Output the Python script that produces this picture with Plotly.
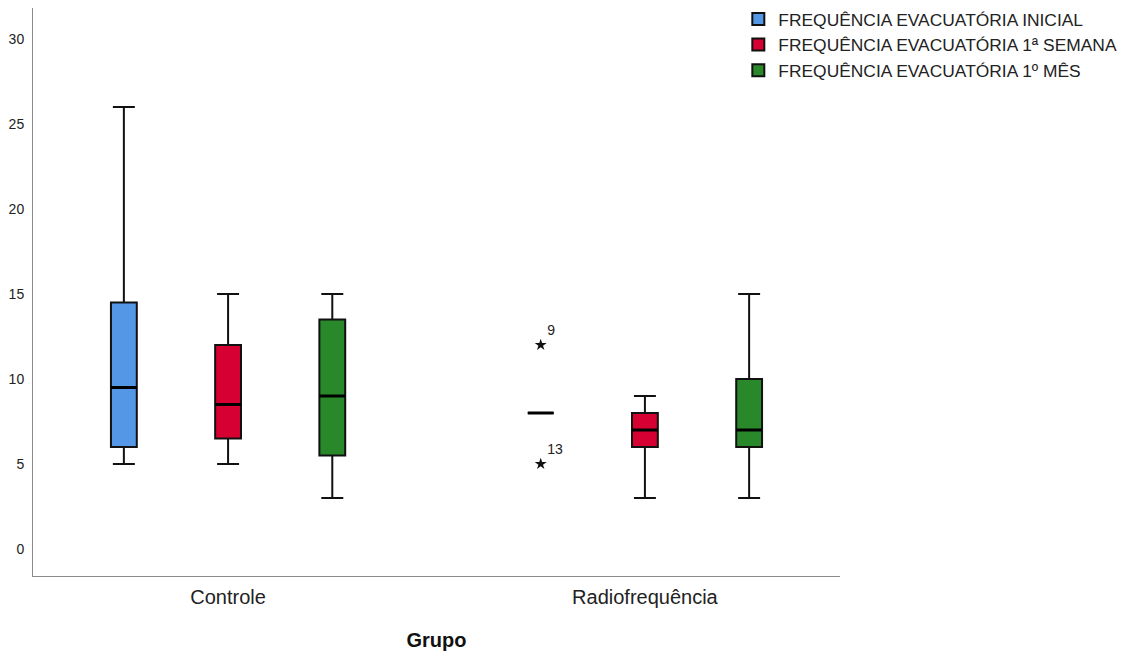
import plotly.graph_objects as go

# ---- data ----
groups = ["Controle", "Radiofrequência"]
series_names = [
    "FREQUÊNCIA EVACUATÓRIA INICIAL",
    "FREQUÊNCIA EVACUATÓRIA 1ª SEMANA",
    "FREQUÊNCIA EVACUATÓRIA 1º MÊS",
]

inicial_low = [5, 8]
inicial_q1 = [6, 8]
inicial_med = [9.5, 8]
inicial_q3 = [14.5, 8]
inicial_high = [26, 8]

semana_low = [5, 3]
semana_q1 = [6.5, 6]
semana_med = [8.5, 7]
semana_q3 = [12, 8]
semana_high = [15, 9]

mes_low = [3, 3]
mes_q1 = [5.5, 6]
mes_med = [9, 7]
mes_q3 = [13.5, 10]
mes_high = [15, 15]

# extreme values (Radiofrequência, inicial)
outlier_values = [12, 5]
outlier_labels = ["9", "13"]
outlier_group = 1
outlier_series = 0

y_ticks = [0, 5, 10, 15, 20, 25, 30]

# ---- style ----
colors = ["#5497E6", "#D70032", "#28882A"]
offsets = [-0.25, 0.0, 0.25]
box_w = 0.062
font_family = "Liberation Sans, Arial, sans-serif"

stats = [
    (inicial_low, inicial_q1, inicial_med, inicial_q3, inicial_high),
    (semana_low, semana_q1, semana_med, semana_q3, semana_high),
    (mes_low, mes_q1, mes_med, mes_q3, mes_high),
]

fig = go.Figure()
for j, (lo, q1, med, q3, hi) in enumerate(stats):
    xs = [i + offsets[j] for i in range(len(groups))]
    fig.add_trace(go.Box(
        name=series_names[j],
        x=xs,
        lowerfence=lo, q1=q1, median=med, q3=q3, upperfence=hi,
        width=box_w,
        whiskerwidth=0.85,
        fillcolor=colors[j],
        line=dict(color="#111111", width=2),
        boxpoints=False,
        hoverinfo="skip",
    ))

# thicker median lines (collapsed boxes at the median)
for j, (lo, q1, med, q3, hi) in enumerate(stats):
    xs = [i + offsets[j] for i in range(len(groups))]
    fig.add_trace(go.Box(
        x=xs,
        lowerfence=med, q1=med, median=med, q3=med, upperfence=med,
        width=box_w,
        whiskerwidth=0.9,
        fillcolor="rgba(0,0,0,0)",
        line=dict(color="#000000", width=3),
        boxpoints=False,
        hoverinfo="skip",
        showlegend=False,
    ))

fig.add_trace(go.Scatter(
    x=[outlier_group + offsets[outlier_series]] * len(outlier_values),
    y=outlier_values,
    mode="markers+text",
    marker=dict(symbol="star", size=9, color="#111111"),
    text=outlier_labels,
    textposition="top right",
    textfont=dict(family=font_family, size=14, color="#222222"),
    showlegend=False,
    hoverinfo="skip",
    cliponaxis=False,
))

# the page adds an 8px body margin; the figure is sized to fit the window
fig.update_layout(
    width=1122, height=644,
    margin=dict(l=25, r=290, t=0, b=76, autoexpand=False),
    plot_bgcolor="white",
    paper_bgcolor="white",
    font=dict(family=font_family, color="#222222"),
    showlegend=True,
    legend=dict(
        x=0.874, y=1.012, xanchor="left", yanchor="top",
        font=dict(family=font_family, size=17.4, color="#222222"),
        bgcolor="rgba(0,0,0,0)", borderwidth=0,
        itemwidth=30,
        tracegroupgap=0,
    ),
    xaxis=dict(
        range=[-0.468, 1.468],
        tickvals=list(range(len(groups))),
        ticktext=groups,
        showgrid=False, zeroline=False,
        showline=True, linecolor="#8a8a8a", linewidth=1,
        ticks="", ticklabelstandoff=3,
        automargin=False,
        tickfont=dict(family=font_family, size=20, color="#222222"),
        title=dict(text="<b>Grupo</b>", standoff=25,
                   font=dict(family=font_family, size=20, color="#111111")),
    ),
    yaxis=dict(
        range=[-1.59, 31.82],
        tickvals=y_ticks,
        showgrid=False, zeroline=False,
        showline=True, linecolor="#8a8a8a", linewidth=1,
        ticks="", ticklabelstandoff=5,
        automargin=False,
        tickfont=dict(family=font_family, size=14, color="#222222"),
    ),
)

fig.write_html("out.html")
